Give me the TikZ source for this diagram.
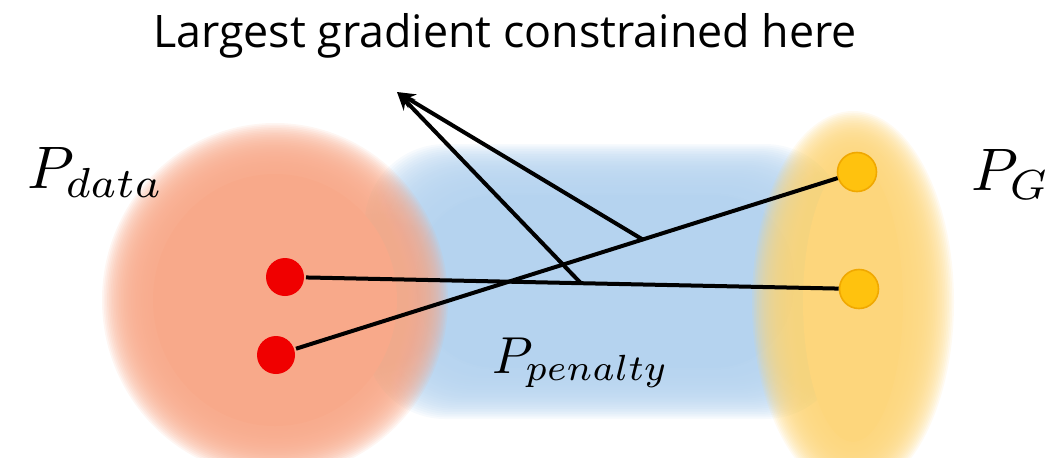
\documentclass[tikz,border=0pt]{standalone}
\usepackage{fontspec}
\newfontfamily\titlefont{Open Sans}
\usetikzlibrary{positioning,arrows.meta,calc}
\definecolor{pdat}{HTML}{F8A98A}
\definecolor{ppen}{HTML}{B5D3EF}
\definecolor{pgen}{HTML}{FDD67C}
\definecolor{rdot}{HTML}{F00000}
\definecolor{ydot}{HTML}{FFC20E}
\definecolor{yrim}{HTML}{F0A800}

\begin{document}
\begin{tikzpicture}[x=0.5pt, y=-0.5pt, line width=2pt,
  reddot/.style={circle, fill=rdot, inner sep=0pt, minimum size=19pt},
  golddot/.style={circle, fill=ydot, draw=yrim, line width=0.8pt, inner sep=0pt, minimum size=19.5pt},
  dist/.style={anchor=base west, inner sep=0pt, scale=3.0},
  grad/.style={-{Stealth[length=9pt, width=8pt]}}]
\useasboundingbox (0,0) rectangle (1049,457);
\newcommand{\haze}[4]{% colour, centre, x radius, y radius
  \foreach \k in {30,29,...,1} \fill[#1, opacity=0.11] #2 ellipse [x radius=#3+1.7*\k, y radius=#4+1.7*\k];
  \fill[#1] #2 ellipse [x radius=#3, y radius=#4];}
% penalty region
\foreach \k in {30,29,...,1}
  \fill[ppen, opacity=0.11, rounded corners=40pt] (416-1.7*\k,195-1.7*\k) rectangle (794+1.7*\k,368+1.7*\k);
\fill[ppen, rounded corners=40pt] (416,195) rectangle (794,368);
\haze{pdat}{(275,300)}{122}{126}
\haze{pgen}{(853,302)}{50}{140}
\node (title) at (505,36) {\titlefont\fontsize{22.4}{27}\selectfont Largest gradient constrained here};
\node[dist] (pdata) at (21,188) {$P_{data}$};
\node[dist] (pg) at (965,190) {$P_G$};
\node[dist, scale=2.6/3.0] (ppen) at (487,373) {$P_{penalty}$};
% samples
\node[reddot] (r1) at (285,277) {};
\node[reddot] (r2) at (276,355) {};
\node[golddot] (y1) at (857,172) {};
\node[golddot] (y2) at (859,289) {};
\coordinate (tip) at (397,92);
\draw (r1) -- (y2) coordinate[pos=0.516] (m1);
\draw (r2) -- (y1) coordinate[pos=0.64] (m2);
\draw[grad] (m1) -- (tip);
\draw[grad] (m2) -- (tip);
\end{tikzpicture}
\end{document}
